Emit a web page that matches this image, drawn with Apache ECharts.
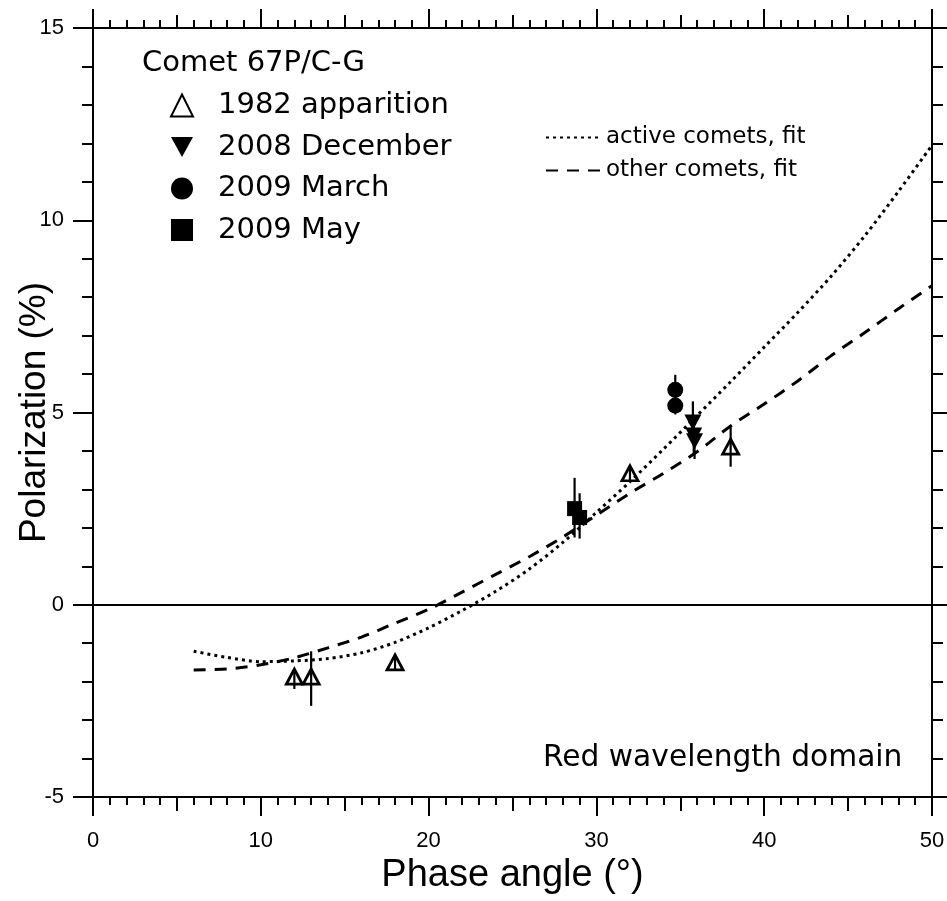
<!DOCTYPE html>
<html>
<head>
<meta charset="utf-8">
<script src="https://cdn.jsdelivr.net/npm/echarts@6/dist/echarts.min.js"></script>
<style>
html,body{margin:0;padding:0;background:#fff;}
#chart{width:947px;height:901px;}
</style>
</head>
<body>
<div id="chart"></div>
<script>
// ---- Data ----
// 1982 apparition (open triangles)
const app1982X  = [12, 13, 18, 32, 38];
const app1982Y  = [-1.87, -1.87, -1.50, 3.42, 4.11];
const app1982Lo = [-2.19, -2.63, -1.70, 3.23, 3.59];
const app1982Hi = [-1.67, -1.21, -1.27, 3.62, 4.62];
// 2008 December (filled down triangles)
const dec2008X  = [35.75, 35.8, 35.85];
const dec2008Y  = [4.74, 4.40, 4.25];
const dec2008Lo = [4.30, 3.95, 3.79];
const dec2008Hi = [5.29, 4.85, 4.60];
// 2009 March (filled circles)
const mar2009X  = [34.7, 34.7];
const mar2009Y  = [5.59, 5.18];
const mar2009Lo = [5.30, 4.95];
const mar2009Hi = [5.98, 5.45];
// 2009 May (filled squares)
const may2009X  = [28.7, 29.0];
const may2009Y  = [2.50, 2.27];
const may2009Lo = [1.75, 1.72];
const may2009Hi = [3.30, 2.90];
// Fit curves
const fitX      = [6, 8, 10, 12, 14, 16, 18, 20, 22, 24, 26, 28, 30, 32, 34, 36, 38, 40, 42, 44, 46, 48, 50];
const activeFit = [-1.21, -1.37, -1.48, -1.46, -1.40, -1.25, -0.98, -0.60, -0.15, 0.35, 0.93, 1.62, 2.40, 3.20, 4.05, 4.92, 5.80, 6.70, 7.60, 8.55, 9.60, 10.75, 11.95];
const otherFit  = [-1.70, -1.67, -1.56, -1.38, -1.12, -0.84, -0.48, -0.12, 0.33, 0.79, 1.25, 1.76, 2.33, 2.90, 3.42, 3.98, 4.65, 5.22, 5.82, 6.48, 7.08, 7.70, 8.30];
// Axis ticks
const xTicks = {min: 0, max: 50, major: 10, mid: 5};
const yTicks = {min: -5, max: 15, major: 5};
// Labels
const seriesNames = ['1982 apparition', '2008 December', '2009 March', '2009 May'];
const fitNames = ['active comets, fit', 'other comets, fit'];

const pts = (xs, ys) => xs.map((x, i) => [x, ys[i]]);
const bars = (xs, lo, hi) => xs.map((x, i) => [x, lo[i], hi[i]]);

const LEG_FONT = '"DejaVu Sans", sans-serif';
const AX_FONT = '"Liberation Sans", Arial, sans-serif';
const DOWN_TRI = 'path://M0,0 L10,0 L5,9 Z';

function errRender(params, api) {
  const p1 = api.coord([api.value(0), api.value(1)]);
  const p2 = api.coord([api.value(0), api.value(2)]);
  return {type: 'line', shape: {x1: p1[0], y1: p1[1], x2: p2[0], y2: p2[1]},
          style: {stroke: '#000', lineWidth: 2.2}};
}
function errSeries(data) {
  return {type: 'custom', renderItem: errRender, data: data, xAxisIndex: 0, yAxisIndex: 0,
          encode: {x: 0, y: [1, 2]}, z: 3, silent: true, animation: false};
}

function axLine(show) { return {show: show, onZero: false, lineStyle: {color: '#000', width: 2}}; }
function xAx(pos, interval, tickLen, minor, labels, lineShow, extra) {
  return Object.assign({
    type: 'value', gridIndex: 0, position: pos, min: xTicks.min, max: xTicks.max, interval: interval,
    axisLine: axLine(lineShow),
    axisTick: {show: true, inside: false, length: tickLen, lineStyle: {color: '#000', width: 2}},
    minorTick: {show: minor, splitNumber: 10, length: 8, lineStyle: {color: '#000', width: 2}},
    splitLine: {show: false}, minorSplitLine: {show: false},
    axisLabel: {show: labels, fontSize: 22, color: '#000', fontFamily: AX_FONT, margin: 33}
  }, extra || {});
}
function yAx(pos, labels, extra) {
  return Object.assign({
    type: 'value', gridIndex: 0, position: pos, min: yTicks.min, max: yTicks.max, interval: yTicks.major,
    axisLine: axLine(true),
    axisTick: {show: true, inside: false, length: 20, lineStyle: {color: '#000', width: 2}},
    minorTick: {show: true, splitNumber: 5, length: 11, lineStyle: {color: '#000', width: 2}},
    splitLine: {show: false}, minorSplitLine: {show: false},
    axisLabel: {show: labels, fontSize: 22, color: '#000', fontFamily: AX_FONT, margin: 29}
  }, extra || {});
}

const chart = echarts.init(document.getElementById('chart'), null, {renderer: 'canvas'});
chart.setOption({
  animation: false,
  backgroundColor: '#fff',
  grid: {left: 93, right: 15, top: 28, bottom: 104, containLabel: false, outerBoundsMode: 'none'},
  title: {text: 'Comet 67P/C-G', left: 137, top: 44,
          textStyle: {fontFamily: LEG_FONT, fontSize: 29, fontWeight: 'normal', color: '#000'}},
  graphic: [{type: 'text', left: 543, top: 743,
             style: {text: 'Red wavelength domain', font: '29.7px "DejaVu Sans", sans-serif', fill: '#000'}}],
  legend: [
    {data: seriesNames, orient: 'vertical', left: 165, top: 86, itemWidth: 22, itemHeight: 22, itemGap: 12.5,
     textStyle: {fontFamily: LEG_FONT, fontSize: 29, color: '#000', padding: [0, 0, 0, 20]},
     selectedMode: false},
    {data: fitNames, orient: 'vertical', left: 540, top: 121, itemWidth: 55, itemHeight: 10, itemGap: 10,
     textStyle: {fontFamily: LEG_FONT, fontSize: 23, color: '#000'},
     itemStyle: {opacity: 0},
     selectedMode: false}
  ],
  xAxis: [
    xAx('bottom', xTicks.major, 19, true, true, true, {
      name: 'Phase angle (°)', nameLocation: 'middle', nameGap: 54,
      nameTextStyle: {fontSize: 38, color: '#000', fontFamily: AX_FONT}}),
    xAx('top', xTicks.major, 19, true, false, true),
    xAx('bottom', xTicks.mid, 14, false, false, false),
    xAx('top', xTicks.mid, 13, false, false, false)
  ],
  yAxis: [
    yAx('left', true, {name: 'Polarization (%)', nameLocation: 'middle', nameRotate: 90, nameGap: 40,
      nameMoveOverlap: false,
      nameTextStyle: {fontSize: 37, color: '#000', fontFamily: AX_FONT}}),
    yAx('right', false)
  ],
  series: [
    {name: fitNames[0], type: 'line', data: pts(fitX, activeFit), symbol: 'none', smooth: 0.3,
     xAxisIndex: 0, yAxisIndex: 0, z: 2, itemStyle: {color: '#000'},
     lineStyle: {color: '#000', width: 3, type: [3, 4], cap: 'butt'},
     markLine: {silent: true, symbol: 'none', label: {show: false},
                lineStyle: {color: '#000', width: 2.2, type: 'solid'},
                data: [{yAxis: 0}]}},
    {name: fitNames[1], type: 'line', data: pts(fitX, otherFit), symbol: 'none', smooth: 0.3,
     xAxisIndex: 0, yAxisIndex: 0, z: 2, itemStyle: {color: '#000'},
     lineStyle: {color: '#000', width: 3, type: [12, 9], cap: 'butt'}},
    errSeries(bars(app1982X, app1982Lo, app1982Hi)),
    errSeries(bars(dec2008X, dec2008Lo, dec2008Hi)),
    errSeries(bars(mar2009X, mar2009Lo, mar2009Hi)),
    errSeries(bars(may2009X, may2009Lo, may2009Hi)),
    {name: seriesNames[0], type: 'scatter', data: pts(app1982X, app1982Y), symbol: 'triangle', symbolSize: [16, 15],
     itemStyle: {color: 'rgba(255,255,255,0)', borderColor: '#000', borderWidth: 2.8, opacity: 1}, z: 4},
    {name: seriesNames[1], type: 'scatter', data: pts(dec2008X, dec2008Y), symbol: DOWN_TRI,
     symbolSize: [17, 16], itemStyle: {color: '#000', opacity: 1}, z: 4},
    {name: seriesNames[2], type: 'scatter', data: pts(mar2009X, mar2009Y), symbol: 'circle', symbolSize: 16,
     itemStyle: {color: '#000', opacity: 1}, z: 4},
    {name: seriesNames[3], type: 'scatter', data: pts(may2009X, may2009Y), symbol: 'rect', symbolSize: 15,
     itemStyle: {color: '#000', opacity: 1}, z: 4}
  ]
});
</script>
</body>
</html>
